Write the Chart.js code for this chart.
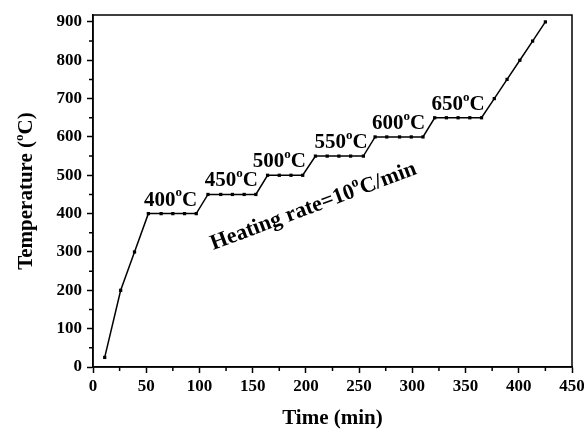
<!DOCTYPE html>
<html>
<head>
<meta charset="utf-8">
<script src="https://cdn.jsdelivr.net/npm/chart.js@4"></script>
<style>
    html, body { margin: 0; padding: 0; background: #fff; }
    #wrap { width: 584px; height: 432px; }
</style>
</head>
<body>
<div id="wrap"><canvas id="myChart"></canvas></div>
<script>
// heating schedule
const times = [11, 26, 39, 52, 64, 75, 86, 97, 108, 120, 131, 142, 153, 164, 175, 186, 197,
    209, 220, 231, 242, 254, 265, 276, 288, 299, 310, 321, 332, 343, 354, 365, 377, 389, 401, 413, 425];
const temps = [25, 200, 300, 400, 400, 400, 400, 400, 450, 450, 450, 450, 450, 500, 500, 500, 500,
    550, 550, 550, 550, 550, 600, 600, 600, 600, 600, 650, 650, 650, 650, 650, 700, 750, 800, 850, 900];

const xTicks = [0, 50, 100, 150, 200, 250, 300, 350, 400, 450];
const yTicks = [0, 100, 200, 300, 400, 500, 600, 700, 800, 900];

// plateau labels (text anchor in data units)
const stageTemps = [400, 450, 500, 550, 600, 650];
const stageLabelX = [48, 105, 150, 208, 262, 318];

const rateText = ["Heating rate=10", "o", "C/min"];
const rateAnchor = [113, 305];
const rateAngle = -20.5;

const fam = '"Liberation Serif", "Times New Roman", serif';

const mid = (arr) => arr.slice(1).map((v, i) => (v + arr[i]) / 2);
const xMinor = mid(xTicks);
const yMinor = mid(yTicks);

function partsWidth(ctx, parts, size) {
    let w = 0;
    parts.forEach((p, i) => {
        ctx.font = "bold " + (i % 2 ? Math.round(size * 0.62) : size) + "px " + fam;
        w += ctx.measureText(p).width;
    });
    return w;
}

function drawParts(ctx, parts, x, y, size) {
    let cx = x;
    parts.forEach((p, i) => {
        let sup = i % 2 == 1;
        ctx.font = "bold " + (sup ? Math.round(size * 0.62) : size) + "px " + fam;
        ctx.fillText(p, cx, sup ? y - size * 0.44 : y);
        cx += ctx.measureText(p).width;
    });
}

const decor = {
    id: "decor",
    afterDraw(chart) {
        const ctx = chart.ctx;
        const a = chart.chartArea;
        const x = chart.scales.x;
        const y = chart.scales.y;
        ctx.save();
        ctx.strokeStyle = "#000";
        ctx.fillStyle = "#000";
        ctx.lineWidth = 1.5;
        ctx.strokeRect(a.left, a.top, a.right - a.left, a.bottom - a.top);

        // minor ticks
        ctx.beginPath();
        xMinor.forEach((v) => {
            let px = x.getPixelForValue(v);
            ctx.moveTo(px, a.bottom);
            ctx.lineTo(px, a.bottom + 4);
        });
        yMinor.forEach((v) => {
            let py = y.getPixelForValue(v);
            ctx.moveTo(a.left, py);
            ctx.lineTo(a.left - 4, py);
        });
        ctx.stroke();

        ctx.textAlign = "left";
        ctx.textBaseline = "alphabetic";

        // plateau temperatures
        stageTemps.forEach((t, i) => {
            drawParts(ctx, [String(t), "o", "C"], x.getPixelForValue(stageLabelX[i]), y.getPixelForValue(t) - 8, 21);
        });

        // heating rate note
        ctx.save();
        ctx.translate(x.getPixelForValue(rateAnchor[0]), y.getPixelForValue(rateAnchor[1]));
        ctx.rotate(rateAngle * Math.PI / 180);
        drawParts(ctx, rateText, 0, 0, 22);
        ctx.restore();

        // y axis title
        const yTitle = ["Temperature (", "o", "C)"];
        ctx.save();
        ctx.translate(y.left + 32, (a.top + a.bottom) / 2);
        ctx.rotate(-Math.PI / 2);
        drawParts(ctx, yTitle, -partsWidth(ctx, yTitle, 21) / 2, 0, 21);
        ctx.restore();

        ctx.restore();
    },
};

const tickFont = { family: fam, size: 17, weight: "bold" };

const config = {
    type: "line",
    data: {
        datasets: [
            {
                data: times.map((t, i) => ({ x: t, y: temps[i] })),
                borderColor: "#000",
                borderWidth: 1.5,
                pointStyle: "rect",
                pointRadius: 2.3,
                pointBackgroundColor: "#000",
                pointBorderWidth: 0,
                tension: 0,
            },
        ],
    },
    options: {
        responsive: true,
        maintainAspectRatio: false,
        animation: false,
        layout: { padding: { left: 0, right: 12, top: 15, bottom: 0 } },
        plugins: {
            legend: { display: false },
            tooltip: { enabled: false },
        },
        scales: {
            x: {
                type: "linear",
                min: 0,
                max: 450,
                afterBuildTicks: (s) => {
                    s.ticks = xTicks.map((v) => ({ value: v }));
                },
                afterFit: (s) => {
                    s.height = 65;
                    s.paddingLeft = 0;
                    s.paddingRight = 0;
                },
                border: { color: "#000", width: 1.5 },
                grid: { drawOnChartArea: false, tickLength: 6, tickColor: "#000", tickWidth: 1.5 },
                ticks: { color: "#000", font: tickFont, padding: 3, maxRotation: 0 },
                title: {
                    display: true,
                    text: "Time (min)",
                    color: "#000",
                    font: { family: fam, size: 21, weight: "bold" },
                    padding: { top: 0, bottom: 1 },
                },
            },
            y: {
                min: 0,
                max: 918,
                afterBuildTicks: (s) => {
                    s.ticks = yTicks.map((v) => ({ value: v }));
                },
                afterFit: (s) => {
                    s.width = 93;
                    s.paddingTop = 0;
                    s.paddingBottom = 0;
                },
                border: { color: "#000", width: 1.5 },
                grid: { drawOnChartArea: false, tickLength: 6, tickColor: "#000", tickWidth: 1.5 },
                ticks: { color: "#000", font: tickFont, padding: 5 },
            },
        },
    },
    plugins: [decor],
};

const chart = new Chart(document.getElementById("myChart"), config);
</script>
</body>
</html>
